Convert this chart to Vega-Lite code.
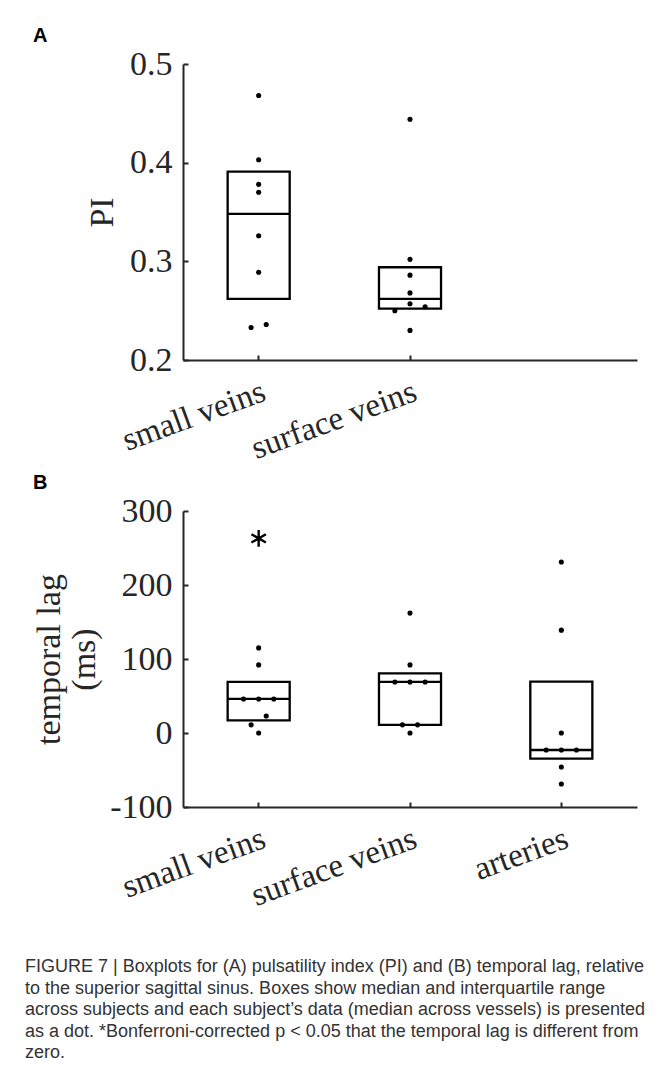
{
  "$schema": "https://vega.github.io/schema/vega-lite/v6.json",
  "background": "white",
  "padding": {"left": 25, "top": 26, "right": 10, "bottom": 8},
  "bounds": "flush",
  "spacing": 151,
  "config": {
    "view": {"stroke": null},
    "axis": {
      "labelFont": "Liberation Serif", "titleFont": "Liberation Serif",
      "labelFontSize": 34, "titleFontSize": 34, "titleFontWeight": "normal",
      "labelColor": "#262626", "titleColor": "#262626",
      "domainColor": "#262626", "tickColor": "#262626",
      "domainWidth": 2, "tickWidth": 2, "tickSize": -5, "grid": false,
      "labelPadding": 16
    },
    "title": {"font": "Liberation Sans", "fontWeight": "bold", "fontSize": 20, "anchor": "start", "color": "#000000", "frame": "group"}
  },
  "title": {
    "text": [
      "FIGURE 7 | Boxplots for (A) pulsatility index (PI) and (B) temporal lag, relative",
      "to the superior sagittal sinus. Boxes show median and interquartile range",
      "across subjects and each subject’s data (median across vessels) is presented",
      "as a dot. *Bonferroni-corrected p < 0.05 that the temporal lag is different from",
      "zero."
    ],
    "orient": "bottom", "anchor": "start", "frame": "group", "dx": -158, "offset": 46,
    "font": "Liberation Sans", "fontWeight": "normal", "fontSize": 18, "lineHeight": 21.5, "color": "#333333"
  },
  "datasets": {
    "boxA": [
      {"group": "small veins", "q1": 0.262, "median": 0.348, "q3": 0.391},
      {"group": "surface veins", "q1": 0.252, "median": 0.262, "q3": 0.294}
    ],
    "dotsA": [
      {"group": "small veins", "value": 0.468, "slot": 0},
      {"group": "small veins", "value": 0.403, "slot": 0},
      {"group": "small veins", "value": 0.378, "slot": 0},
      {"group": "small veins", "value": 0.370, "slot": 0},
      {"group": "small veins", "value": 0.326, "slot": 0},
      {"group": "small veins", "value": 0.289, "slot": 0},
      {"group": "small veins", "value": 0.233, "slot": -1},
      {"group": "small veins", "value": 0.236, "slot": 1},
      {"group": "surface veins", "value": 0.444, "slot": 0},
      {"group": "surface veins", "value": 0.302, "slot": 0},
      {"group": "surface veins", "value": 0.286, "slot": 0},
      {"group": "surface veins", "value": 0.268, "slot": 0},
      {"group": "surface veins", "value": 0.257, "slot": 0},
      {"group": "surface veins", "value": 0.250, "slot": -2},
      {"group": "surface veins", "value": 0.254, "slot": 2},
      {"group": "surface veins", "value": 0.230, "slot": 0}
    ],
    "boxB": [
      {"group": "small veins", "q1": 17, "median": 46, "q3": 69},
      {"group": "surface veins", "q1": 11, "median": 69, "q3": 80.5},
      {"group": "arteries", "q1": -34.5, "median": -23, "q3": 69.5}
    ],
    "dotsB": [
      {"group": "small veins", "value": 115, "slot": 0},
      {"group": "small veins", "value": 92, "slot": 0},
      {"group": "small veins", "value": 46, "slot": -2},
      {"group": "small veins", "value": 46, "slot": 0},
      {"group": "small veins", "value": 46, "slot": 2},
      {"group": "small veins", "value": 23, "slot": 1},
      {"group": "small veins", "value": 11, "slot": -1},
      {"group": "small veins", "value": 0, "slot": 0},
      {"group": "surface veins", "value": 162, "slot": 0},
      {"group": "surface veins", "value": 92, "slot": 0},
      {"group": "surface veins", "value": 69, "slot": -2},
      {"group": "surface veins", "value": 69, "slot": 0},
      {"group": "surface veins", "value": 69, "slot": 2},
      {"group": "surface veins", "value": 11, "slot": -1},
      {"group": "surface veins", "value": 11, "slot": 1},
      {"group": "surface veins", "value": 0, "slot": 0},
      {"group": "arteries", "value": 231, "slot": 0},
      {"group": "arteries", "value": 139, "slot": 0},
      {"group": "arteries", "value": 0, "slot": 0},
      {"group": "arteries", "value": -23, "slot": -2},
      {"group": "arteries", "value": -23, "slot": 0},
      {"group": "arteries", "value": -23, "slot": 2},
      {"group": "arteries", "value": -46, "slot": 0},
      {"group": "arteries", "value": -69, "slot": 0}
    ],
    "starB": [
      {"group": "small veins", "value": 263}
    ]
  },
  "vconcat": [
    {
      "width": 454, "height": 296,
      "title": {"text": "A", "dx": -150, "offset": 1},
      "resolve": {"scale": {"xOffset": "independent"}},
      "layer": [
        {
          "data": {"name": "boxA"},
          "mark": {"type": "bar", "fill": "transparent", "stroke": "black", "strokeWidth": 2.3, "width": {"band": 0.41}},
          "encoding": {
            "x": {"field": "group", "type": "nominal",
              "scale": {"domain": ["small veins", "surface veins", "arteries"], "paddingInner": 0, "paddingOuter": 0},
              "axis": {"title": null, "values": ["small veins", "surface veins"], "labelAngle": -20, "labelAlign": "right", "labelBaseline": "top", "labelFontSize": 33, "labelPadding": 20}},
            "y": {"field": "q1", "type": "quantitative",
              "scale": {"domain": [0.2, 0.5], "nice": false, "zero": false},
              "axis": {"title": "PI", "values": [0.2, 0.3, 0.4, 0.5], "format": ".1f", "titlePadding": 10}},
            "y2": {"field": "q3"}
          }
        },
        {
          "data": {"name": "boxA"},
          "mark": {"type": "bar", "fill": "transparent", "stroke": "black", "strokeWidth": 2.3, "width": {"band": 0.41}},
          "encoding": {
            "x": {"field": "group", "type": "nominal"},
            "y": {"field": "median", "type": "quantitative"},
            "y2": {"field": "median"}
          }
        },
        {
          "data": {"name": "dotsA"},
          "mark": {"type": "circle", "color": "black", "opacity": 1, "size": 26},
          "encoding": {
            "x": {"field": "group", "type": "nominal"},
            "xOffset": {"field": "slot", "type": "quantitative", "scale": {"domain": [-10, 10]}},
            "y": {"field": "value", "type": "quantitative"}
          }
        }
      ]
    },
    {
      "width": 454, "height": 296,
      "title": {"text": "B", "dx": -150, "offset": 1},
      "resolve": {"scale": {"xOffset": "independent"}},
      "layer": [
        {
          "data": {"name": "boxB"},
          "mark": {"type": "bar", "fill": "transparent", "stroke": "black", "strokeWidth": 2.3, "width": {"band": 0.41}},
          "encoding": {
            "x": {"field": "group", "type": "nominal",
              "scale": {"domain": ["small veins", "surface veins", "arteries"], "paddingInner": 0, "paddingOuter": 0},
              "axis": {"title": null, "labelAngle": -20, "labelAlign": "right", "labelBaseline": "top", "labelFontSize": 33, "labelPadding": 20}},
            "y": {"field": "q1", "type": "quantitative",
              "scale": {"domain": [-100, 300], "nice": false, "zero": false},
              "axis": {"title": ["temporal lag", "(ms)"], "values": [-100, 0, 100, 200, 300], "labelExpr": "'' + datum.value", "titlePadding": 8, "titleLineHeight": 35}},
            "y2": {"field": "q3"}
          }
        },
        {
          "data": {"name": "boxB"},
          "mark": {"type": "bar", "fill": "transparent", "stroke": "black", "strokeWidth": 2.3, "width": {"band": 0.41}},
          "encoding": {
            "x": {"field": "group", "type": "nominal"},
            "y": {"field": "median", "type": "quantitative"},
            "y2": {"field": "median"}
          }
        },
        {
          "data": {"name": "dotsB"},
          "mark": {"type": "circle", "color": "black", "opacity": 1, "size": 26},
          "encoding": {
            "x": {"field": "group", "type": "nominal"},
            "xOffset": {"field": "slot", "type": "quantitative", "scale": {"domain": [-10, 10]}},
            "y": {"field": "value", "type": "quantitative"}
          }
        },
        {
          "data": {"name": "starB"},
          "mark": {"type": "point", "shape": "M0,-1L0,1M-0.866,-0.5L0.866,0.5M-0.866,0.5L0.866,-0.5", "filled": false, "stroke": "black", "strokeWidth": 2.4, "size": 280, "opacity": 1},
          "encoding": {
            "x": {"field": "group", "type": "nominal"},
            "y": {"field": "value", "type": "quantitative"}
          }
        }
      ]
    }
  ]
}
